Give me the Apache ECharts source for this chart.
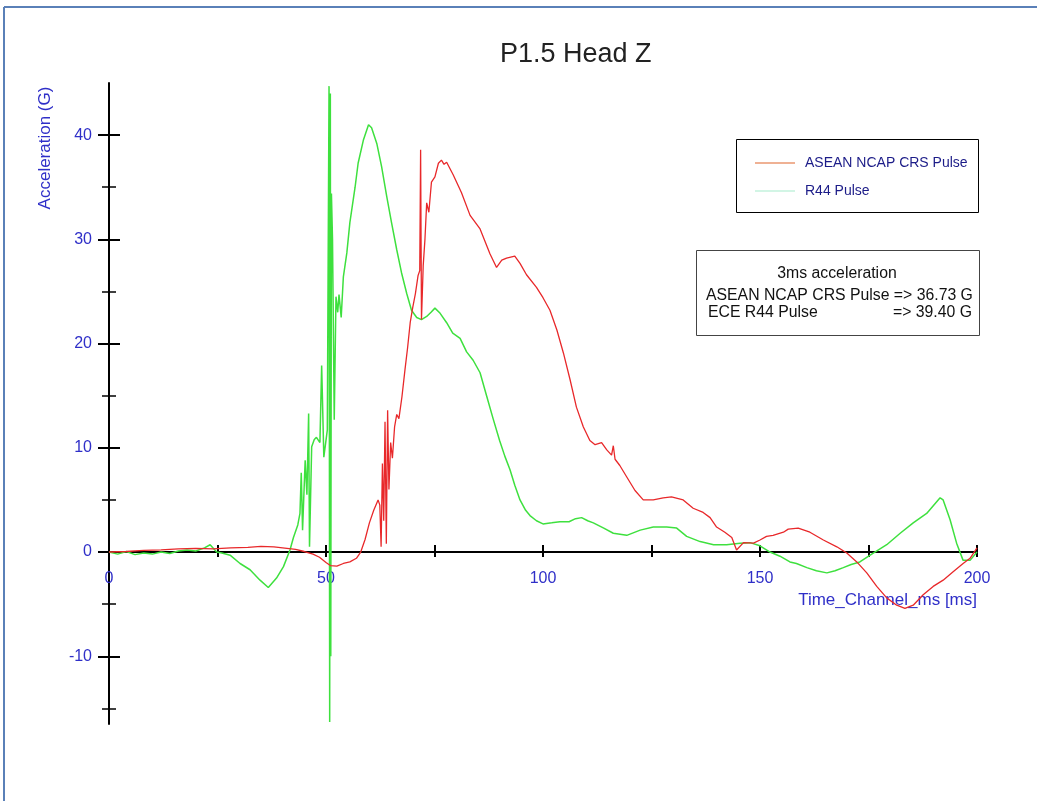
<!DOCTYPE html>
<html lang="en">
<head>
    <meta charset="UTF-8">
    <title>P1.5 Head Z</title>
    <script type="text/javascript" src="https://cdn.jsdelivr.net/npm/echarts@6/dist/echarts.min.js"></script>
    <style>
        html, body { margin: 0; padding: 0; background: #fff; }
    </style>
</head>
<body>

    <div id="chart" style="width:1037px;height:801px;"></div>

<script type="text/javascript">

    // ASEAN NCAP CRS pulse (ms / G)
    var redTime = [0, 4, 8, 12, 16, 20, 24, 28, 32, 35, 38, 41, 43, 45, 47, 48.5, 50, 51, 52.5, 54, 55.5, 57, 58, 59, 60, 61, 62,
        62.4, 62.7, 63.0, 63.3, 63.6, 63.9, 64.2, 64.5, 64.9, 65.3, 65.8, 66.3, 66.8, 67.5, 68.2, 68.8, 69.4, 70.0, 70.6, 71.2, 71.6,
        71.8, 72.0, 72.4, 72.8, 73.2, 73.7, 74.3, 75.1, 75.9, 76.6, 77.2, 77.8, 79.3, 81.2, 83.2, 85.5, 87.8, 89.3, 90.5, 91.6, 93.5,
        94.7, 96.2, 98.5, 100, 101.6, 103.2, 104.7, 106.2, 107.7, 109.3, 110.8, 112, 113.5, 114.7, 115.8, 116.2, 116.6, 117.7, 119.3,
        121.2, 123.1, 125.4, 127.7, 129.6, 132.3, 134.6, 136.9, 138.5, 140, 141.9, 143.5, 144.6, 146.2, 148.5, 150, 151.5, 153, 155.4,
        156.5, 158.8, 161.5, 164.6, 167.7, 170, 172.3, 174.6, 176.9, 179.2, 181.5, 183.4, 185.3, 187.6, 189.9, 192.2, 194.5, 196.8,
        198.4, 200];
    var redAccel = [0, 0.05, 0.15, 0.2, 0.3, 0.35, 0.3, 0.4, 0.45, 0.55, 0.5, 0.35, 0.25, 0.05, -0.2, -0.5, -1.0, -1.3, -1.35, -1.1, -0.95, -0.6, 0.0, 1.2, 2.8, 4.0, 5.0,
        4.5, 0.5, 8.5, 3.0, 12.5, 0.8, 13.6, 6.0, 10.5, 9.0, 12.0, 13.2, 12.8, 14.9, 17.5, 19.6, 22.0, 23.5, 24.8, 26.5, 27.0,
        38.6, 22.3, 27.5, 30.0, 33.5, 32.6, 35.5, 36.0, 37.3, 37.6, 37.2, 37.4, 36.2, 34.5, 32.3, 31.0, 28.6, 27.3, 28.0, 28.2, 28.4,
        27.7, 26.6, 25.4, 24.4, 23.2, 21.3, 19.1, 16.6, 13.9, 12.0, 10.7, 10.3, 10.5, 9.8, 9.3, 10.2, 8.9, 8.3, 7.2,
        5.9, 5.0, 5.0, 5.2, 5.3, 5.0, 4.2, 3.8, 3.3, 2.4, 1.9, 1.4, 0.2, 0.9, 0.85, 1.15, 1.5, 1.6, 1.9,
        2.2, 2.3, 1.9, 1.15, 0.5, -0.1, -0.95, -2.0, -3.3, -4.4, -5.1, -5.4, -5.1, -4.1, -3.3, -2.7, -1.9, -1.1,
        -0.6, 0.4];

    // R44 pulse (ms / G)
    var greenTime = [0, 2, 4, 6, 8, 10, 12, 14, 16, 18, 20, 22, 23.3, 24.8, 26, 27.9, 30.2, 32.5, 34.8, 36.7, 38.6, 40.2, 41.7, 42.5, 43.5,
        44, 44.3, 44.6, 45.2, 45.6, 46.0, 46.2, 46.7, 47.3, 47.8, 48.6, 49.0, 49.5, 50.3, 50.7, 50.85, 51.0, 51.1, 51.25, 51.5, 51.9,
        52.3, 52.7, 53.0, 53.5, 54, 54.8, 55.5, 56.7, 57.4, 58.6, 59.8, 60.5, 61.7, 62.8, 64, 65.1, 66.3, 67.4, 68.6, 69.7, 70.9, 72,
        73.2, 74.2, 75.1, 76.3, 77.8, 79.2, 80.9, 82.4, 83.9, 85.5, 87, 88.5, 90, 91.2, 92.4, 93.5, 94.7, 96, 97, 98.5, 100, 102, 103.9,
        106, 107.5, 108.9, 110.3, 111.6, 114, 116.2, 119.3, 122.4, 125.4, 128.5, 130.8, 133.1, 136.2, 139.3, 142.3, 145.4, 147.7, 150,
        152.3, 154.6, 156.9, 158.4, 160.8, 163, 165.4, 167.3, 169.2, 171, 173, 176.1, 179.2, 182.3, 185.3, 188.4, 191.5, 192.2, 193.8,
        195.3, 196.8, 198.4, 200];
    var greenAccel = [0, -0.2, 0.05, -0.25, -0.1, -0.2, 0.0, -0.15, 0.1, 0.2, 0.1, 0.4, 0.7, 0.0, -0.1, -0.3, -1.1, -1.7, -2.7, -3.4, -2.5, -1.4, 0.2, 1.4, 2.6,
        3.7, 7.6, 2.1, 8.8, 5.5, 13.3, 0.5, 10.1, 10.8, 11.0, 10.5, 17.9, 9.1, 11.7, 44.7, -16.3, 44.0, -10, 34.4, 30, 12.7,
        24.5, 23.0, 24.7, 22.5, 26.4, 28.7, 31.6, 35, 37.3, 39.5, 41, 40.7, 39.2, 37.0, 34.1, 31.6, 29, 26.8, 24.8, 23.2, 22.5, 22.3,
        22.6, 23.0, 23.4, 22.9, 22.0, 21.0, 20.5, 19.2, 18.4, 17.2, 15.0, 12.8, 10.7, 9.2, 7.9, 6.4, 5.0, 4.0, 3.5, 3.0, 2.7, 2.8, 2.9,
        2.9, 3.2, 3.3, 3.0, 2.8, 2.3, 1.8, 1.6, 2.1, 2.4, 2.4, 2.3, 1.5, 1.0, 0.7, 0.7, 0.85, 0.9, 0.6,
        0.0, -0.4, -0.95, -1.1, -1.5, -1.8, -2.0, -1.8, -1.5, -1.2, -0.95, -0.1, 0.7, 1.8, 2.8, 3.7, 5.2, 5.0, 3.1,
        0.85, -0.8, -0.8, 0.0];

    var yMajorTicks = [-10, 0, 10, 20, 30, 40];
    var yMinorTicks = [-15, -5, 5, 15, 25, 35];

    function pairs(xs, ys) {
        var out = [];
        for (var i = 0; i < xs.length; i++) out.push([xs[i], ys[i]]);
        return out;
    }

    var FONT = 'Liberation Sans, Arial, sans-serif';
    var BLUE = '#2f2fc8';
    var LEGEND_LINE = 'path://M0,0h40v1.2h-40z';

    var dom = document.getElementById("chart");
    var myChart = echarts.init(dom);
    var option = null;

    function yAx(ticks, inside, len, width, labels) {
        return {
            type: 'value',
            min: -16.5,
            max: 45,
            position: 'left',
            axisLine: {show: labels, lineStyle: {color: '#000', width: 2}},
            splitLine: {show: false},
            axisTick: {show: true, inside: inside, length: len, customValues: ticks,
                lineStyle: {color: '#000', width: width}},
            axisLabel: {show: labels, customValues: ticks, margin: 17, color: BLUE,
                fontSize: 16, fontFamily: FONT}
        };
    }

    // labels sit at the grid bottom in v6, so pull them up to the zero line
    function xAx(inside, len, labels) {
        return {
            type: 'value',
            min: 0,
            max: 200,
            interval: 50,
            position: 'bottom',
            axisLine: {show: true, onZero: true, onZeroAxisIndex: 0,
                lineStyle: {color: '#000', width: 2, opacity: labels ? 1 : 0}},
            splitLine: {show: false},
            axisTick: {show: true, inside: inside, length: len, lineStyle: {color: '#000', width: 2}},
            minorTick: {show: true, splitNumber: 2, length: len, lineStyle: {color: '#000', width: 2}},
            axisLabel: {show: labels, margin: -153, color: BLUE, fontSize: 16, fontFamily: FONT}
        };
    }

    option = {
        backgroundColor: '#fff',
        animation: false,
        title: {
            text: 'P1.5 Head Z',
            left: 495,
            top: 36,
            textStyle: {color: '#222', fontSize: 27, fontWeight: 'normal', fontFamily: FONT}
        },
        legend: {
            left: 750,
            top: 151,
            orient: 'vertical',
            itemWidth: 40,
            itemHeight: 14,
            itemGap: 14,
            textStyle: {color: '#1c1c88', fontSize: 14, fontFamily: FONT, padding: [0, 0, 0, 5]},
            data: [
                {name: 'ASEAN NCAP CRS Pulse', icon: LEGEND_LINE, itemStyle: {color: '#e0642a'}},
                {name: 'R44 Pulse', icon: LEGEND_LINE, itemStyle: {color: '#a6eccb'}}
            ]
        },
        grid: {left: 109, right: 60, top: 83, bottom: 77, containLabel: false},
        xAxis: [xAx(false, 5, true), xAx(true, 7, false)],
        yAxis: [
            yAx(yMajorTicks, false, 11, 2, true),
            yAx(yMajorTicks, true, 11, 2, false),
            yAx(yMinorTicks, false, 7, 1.5, false),
            yAx(yMinorTicks, true, 7, 1.5, false)
        ],
        series: [
            {
                name: 'ASEAN NCAP CRS Pulse',
                type: 'line',
                symbol: 'none',
                xAxisIndex: 0,
                yAxisIndex: 0,
                lineStyle: {color: '#e8282a', width: 1.3},
                itemStyle: {color: '#e8282a'},
                data: pairs(redTime, redAccel),
                z: 3
            },
            {
                name: 'R44 Pulse',
                type: 'line',
                symbol: 'none',
                xAxisIndex: 0,
                yAxisIndex: 0,
                lineStyle: {color: '#3ee03e', width: 1.5},
                itemStyle: {color: '#3ee03e'},
                data: pairs(greenTime, greenAccel),
                z: 2
            }
        ],
        graphic: [
            // page frame
            {type: 'line', shape: {x1: 4, y1: 7, x2: 1037, y2: 7}, style: {stroke: '#5a80b8', lineWidth: 2}},
            {type: 'line', shape: {x1: 4, y1: 7, x2: 4, y2: 801}, style: {stroke: '#5a80b8', lineWidth: 2}},
            // axis names
            {type: 'text', x: 45, y: 148, rotation: Math.PI / 2,
                style: {text: 'Acceleration (G)', fill: BLUE, font: '17px ' + FONT, align: 'center', verticalAlign: 'middle'}},
            {type: 'text', x: 977, y: 600,
                style: {text: 'Time_Channel_ms [ms]', fill: BLUE, font: '17px ' + FONT, align: 'right', verticalAlign: 'middle'}},
            // legend box
            {type: 'rect', shape: {x: 736.5, y: 139.5, width: 242, height: 73},
                style: {fill: 'none', stroke: '#000', lineWidth: 1}, z: 1},
            // 3ms acceleration box
            {type: 'rect', shape: {x: 696.5, y: 250.5, width: 283, height: 85},
                style: {fill: '#fff', stroke: '#444', lineWidth: 1}, z: 1},
            {type: 'text', x: 837, y: 274, z: 2,
                style: {text: '3ms acceleration', fill: '#111', font: '15.8px ' + FONT, align: 'center', verticalAlign: 'middle'}},
            {type: 'text', x: 706, y: 296, z: 2,
                style: {text: 'ASEAN NCAP CRS Pulse => 36.73 G', fill: '#111', font: '15.8px ' + FONT, align: 'left', verticalAlign: 'middle'}},
            {type: 'text', x: 708, y: 313, z: 2,
                style: {text: 'ECE R44 Pulse', fill: '#111', font: '15.8px ' + FONT, align: 'left', verticalAlign: 'middle'}},
            {type: 'text', x: 972, y: 313, z: 2,
                style: {text: '=> 39.40 G', fill: '#111', font: '15.8px ' + FONT, align: 'right', verticalAlign: 'middle'}}
        ]
    };

    if (option && typeof option === "object") {
        myChart.setOption(option, true);
    }

</script>
</body>
</html>
